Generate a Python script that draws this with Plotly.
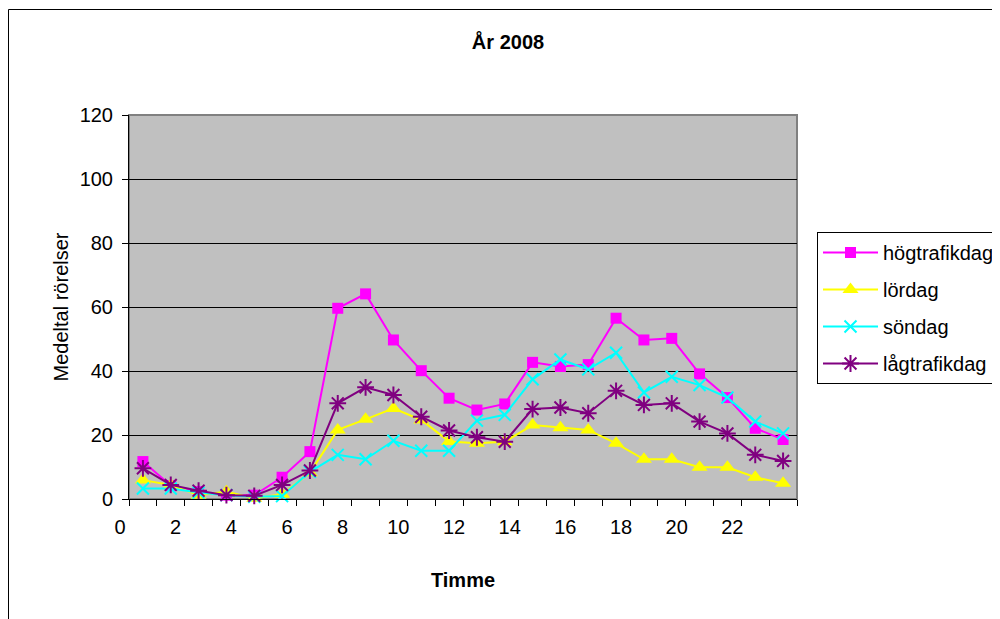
import plotly.graph_objects as go

hours = list(range(24))
x_labels = ["0", "2", "4", "6", "8", "10", "12", "14", "16", "18", "20", "22"]

hogtrafikdag = [11.7, 4.2, 2.3, 1.2, 1.2, 6.8, 14.8, 59.6, 64.1, 49.7, 40.1, 31.5,
                27.8, 29.7, 42.7, 41.4, 42.0, 56.5, 49.7, 50.2, 39.1, 31.7, 22.1, 18.6]
lordag = [5.9, 4.4, 1.2, 2.3, 0.2, 1.5, 8.2, 21.6, 24.9, 28.3, 24.7, 18.0,
          17.4, 17.9, 23.1, 22.3, 21.6, 17.4, 12.4, 12.4, 9.9, 9.9, 6.8, 4.9]
sondag = [3.3, 3.3, 2.0, 1.2, 0.7, 0.9, 8.5, 13.8, 12.4, 18.2, 15.1, 15.1,
          24.5, 26.3, 37.4, 43.6, 40.5, 45.7, 33.3, 38.2, 35.6, 31.7, 24.2, 20.5]
lagtrafikdag = [9.6, 4.4, 2.6, 1.2, 1.0, 4.4, 8.9, 29.9, 34.9, 32.5, 25.7, 21.4,
                19.3, 17.9, 28.1, 28.6, 26.8, 33.8, 29.4, 29.9, 24.2, 20.5, 13.8, 11.9]

series = [
    ("högtrafikdag", hogtrafikdag, "#FF00FF", "square", 11, 0),
    ("lördag", lordag, "#FFFF00", "triangle-up", 14, 0),
    ("söndag", sondag, "#00FFFF", "x-thin", 12, 2),
    ("lågtrafikdag", lagtrafikdag, "#800080", "asterisk", 14, 2),
]

FONT = "Liberation Sans, Arial, sans-serif"
W, H = 1000, 619
OFF = 8  # page body margin: figure sits 8px right/down in the screenshot
# plot area in screenshot px
SL, SR, ST, SB = 129, 797, 115, 499
L, R, T, B = SL - OFF, SR - OFF, ST - OFF, SB - OFF  # figure px

def sx(px):
    return (px - SL) / (SR - SL)

def sy(py):
    return (SB - py) / (SB - ST)

xs = [h + 0.5 for h in hours]

fig = go.Figure()
for i, (name, vals, color, sym, size, lw) in enumerate(series):
    marker = dict(symbol=sym, size=size, color=color)
    if lw:
        marker["line"] = dict(color=color, width=lw)
    else:
        marker["line"] = dict(width=0)
    fig.add_trace(go.Scatter(
        x=xs, y=vals, name=name, mode="lines+markers",
        line=dict(color=color, width=2), marker=marker,
        legendgroup=f"g{i}", cliponaxis=False,
    ))

fig.update_layout(
    width=W, height=H,
    paper_bgcolor="white",
    plot_bgcolor="#C0C0C0",
    margin=dict(l=L, r=W - R, t=T, b=H - B, autoexpand=False),
    font=dict(family=FONT, size=20, color="black"),
    showlegend=True,
    title=dict(text="<b>År 2008</b>", x=(508 - OFF) / W, xanchor="center",
               y=1 - (42 - OFF) / H, yanchor="middle",
               font=dict(family=FONT, size=20, color="black")),
    legend=dict(
        x=sx(817), y=sy(232), xanchor="left", yanchor="top",
        bordercolor="black", borderwidth=1, bgcolor="white",
        font=dict(family=FONT, size=20, color="black"),
        traceorder="grouped", tracegroupgap=8, itemwidth=55,
    ),
    xaxis=dict(
        range=[0, 24], tickmode="array",
        tickvals=[int(t) for t in x_labels], ticktext=x_labels,
        ticklabelshift=-9, ticklabelstandoff=4,
        ticks="outside", ticklen=6, tickcolor="black",
        showgrid=False, zeroline=False,
        showline=True, linecolor="black", linewidth=1,
        tickfont=dict(family=FONT, size=20),
        minor=dict(tickmode="linear", tick0=0, dtick=1, ticks="outside",
                   ticklen=6, tickcolor="black", showgrid=False),
        title=dict(text="<b>Timme</b>", standoff=35,
                   font=dict(family=FONT, size=20)),
        automargin=False,
    ),
    yaxis=dict(
        range=[0, 120], tickmode="linear", tick0=0, dtick=20,
        ticks="outside", ticklen=6, tickcolor="black",
        ticklabelstandoff=5,
        showgrid=True, gridcolor="black", gridwidth=1,
        zeroline=False, showline=True, linecolor="black", linewidth=1,
        tickfont=dict(family=FONT, size=20),
        title=dict(text="Medeltal rörelser", standoff=5,
                   font=dict(family=FONT, size=20)),
        automargin=False,
    ),
    shapes=[
        dict(type="rect", xref="paper", yref="paper", x0=0, x1=1, y0=0, y1=1,
             line=dict(color="#808080", width=2), layer="below"),
        dict(type="rect", xref="paper", yref="paper",
             x0=sx(8.5), x1=sx(1030), y0=sy(650), y1=sy(9.5),
             line=dict(color="black", width=1)),
    ],
)

fig.write_html("out.html")
